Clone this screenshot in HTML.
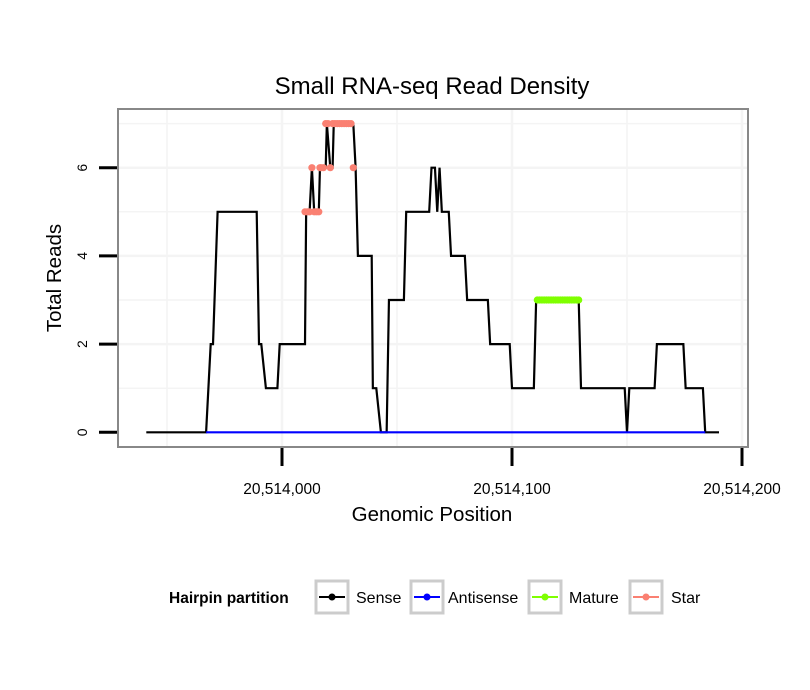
<!DOCTYPE html>
<html><head><meta charset="utf-8"><style>
body{margin:0;background:#fff;}
svg{display:block;font-family:"Liberation Sans",sans-serif;}
</style></head><body>
<svg id="chart" width="810" height="690">
<rect width="810" height="690" fill="#fff"/>
<text x="432" y="94" font-size="24" text-anchor="middle">Small RNA-seq Read Density</text>
<g id="grid"></g>
<g id="marks"></g>
<rect x="118" y="109" width="630" height="338" fill="none" stroke="#888" stroke-width="2"/>
<g id="axes"></g>
<text x="432" y="521" font-size="20.5" text-anchor="middle">Genomic Position</text>
<text transform="translate(61,278) rotate(-90)" font-size="20.5" text-anchor="middle">Total Reads</text>
<g>
<text x="169" y="603" font-size="15.5" font-weight="bold">Hairpin partition</text>
<g><rect x="316" y="581" width="32" height="32" fill="#fff" stroke="#ccc" stroke-width="3"/><line x1="319" y1="597" x2="345" y2="597" stroke="#000" stroke-width="2"/><circle cx="332" cy="597" r="3.5" fill="#000"/><text x="356" y="603" font-size="16">Sense</text></g>
<g><rect x="411" y="581" width="32" height="32" fill="#fff" stroke="#ccc" stroke-width="3"/><line x1="414" y1="597" x2="440" y2="597" stroke="#0000ff" stroke-width="2"/><circle cx="427" cy="597" r="3.5" fill="#0000ff"/><text x="448" y="603" font-size="16">Antisense</text></g>
<g><rect x="529" y="581" width="32" height="32" fill="#fff" stroke="#ccc" stroke-width="3"/><line x1="532" y1="597" x2="558" y2="597" stroke="#7fff00" stroke-width="2"/><circle cx="545" cy="597" r="3.5" fill="#7fff00"/><text x="569" y="603" font-size="16">Mature</text></g>
<g><rect x="630" y="581" width="32" height="32" fill="#fff" stroke="#ccc" stroke-width="3"/><line x1="633" y1="597" x2="659" y2="597" stroke="#fa8072" stroke-width="2"/><circle cx="646" cy="597" r="3.5" fill="#fa8072"/><text x="671" y="603" font-size="16">Star</text></g>
</g>
</svg>
<script>
// offsets from 20,514,000
const sensePos = [-59,-33,-31,-30,-28,-11,-10,-9,-7,-2,-1,10,10.5,12,13,14,16,16.5,19,19.5,21,22,22.5,31,32,33,39,39.5,41,43,45.5,46.5,53,54,64,65,66.5,67.5,68.5,69.5,72.5,73.5,79.5,80.5,89.5,90.5,99,100,109.5,110.5,129,130,149,150,151,162,163,174.5,175.5,183,184,190];
const senseVal = [0,0,2,2,5,5,2,2,1,1,2,2,5,5,6,5,5,6,6,7,6,6,7,7,6,4,4,1,1,0,0,3,3,5,5,6,6,5,6,5,5,4,4,3,3,2,2,1,1,3,3,1,1,0,1,1,2,2,1,1,0,0];
const antisensePos = [-33,184];
const antisenseVal = [0,0];
const starPos = [10,11,12,13,14,15,16,16.5,17,18,19,20,21,22,23,24,25,26,27,28,29,30,31];
const starVal = [5,5,5,6,5,5,5,6,6,6,7,7,6,7,7,7,7,7,7,7,7,7,6];
const maturePos = [111,112,113,114,115,116,117,118,119,120,121,122,123,124,125,126,127,128,129];
const matureVal = [3,3,3,3,3,3,3,3,3,3,3,3,3,3,3,3,3,3,3];
const yTicks = [0,2,4,6];
const xTicks = [0,100,200];
const xTickLabels = ["20,514,000","20,514,100","20,514,200"];

const NS="http://www.w3.org/2000/svg";
const X = p => 282 + p*2.3;
const Y = v => 432.3 - v*44.1;
function mk(tag, attrs, parent){const e=document.createElementNS(NS,tag);for(const k in attrs)e.setAttribute(k,attrs[k]);parent.appendChild(e);return e;}
const grid=document.getElementById('grid'), marks=document.getElementById('marks'), axes=document.getElementById('axes');

for(let v=1; v<=7; v++){
  const l=mk('line',{x1:119,x2:747,y1:Y(v),y2:Y(v),stroke:'#f4f4f4','stroke-width':v%2?1.5:2.5},grid);
  
  
}
[-50,0,50,100,150,200].forEach((p,i)=>{
  const l=mk('line',{x1:X(p),x2:X(p),y1:110,y2:446,stroke:'#f4f4f4','stroke-width':p%100?1.5:2.5},grid);
  
  
});

function line(pos,val,color,name){
  const pts=pos.map((p,i)=>X(p)+','+Y(val[i])).join(' ');
  const e=mk('polyline',{points:pts,fill:'none',stroke:color,'stroke-width':2.2,'stroke-linejoin':'miter'},marks);
  
  
}
function pts(pos,val,color,name){
  pos.forEach((p,i)=>{
    const c=mk('circle',{cx:X(p),cy:Y(val[i]),r:3.6,fill:color},marks);
    
    
  });
}
line(sensePos,senseVal,'#000','sense-line');
line(antisensePos,antisenseVal,'#0000ff','antisense-line');
pts(starPos,starVal,'#fa8072','star-point');
pts(maturePos,matureVal,'#7fff00','mature-point');

yTicks.forEach(v=>{
  const t=mk('line',{x1:99,x2:117,y1:Y(v),y2:Y(v),stroke:'#000','stroke-width':3},axes);
  
  
  const tx=mk('text',{transform:`translate(87,${Y(v)}) rotate(-90)`,'font-size':14,'text-anchor':'middle'},axes);
  tx.textContent=v;
  
  
});
xTicks.forEach((p,i)=>{
  const t=mk('line',{x1:X(p),x2:X(p),y1:448,y2:466,stroke:'#000','stroke-width':3},axes);
  
  
  const tx=mk('text',{x:X(p),y:494,'font-size':15.5,'text-anchor':'middle'},axes);
  tx.textContent=xTickLabels[i];
  
  
});
</script>
</body></html>
